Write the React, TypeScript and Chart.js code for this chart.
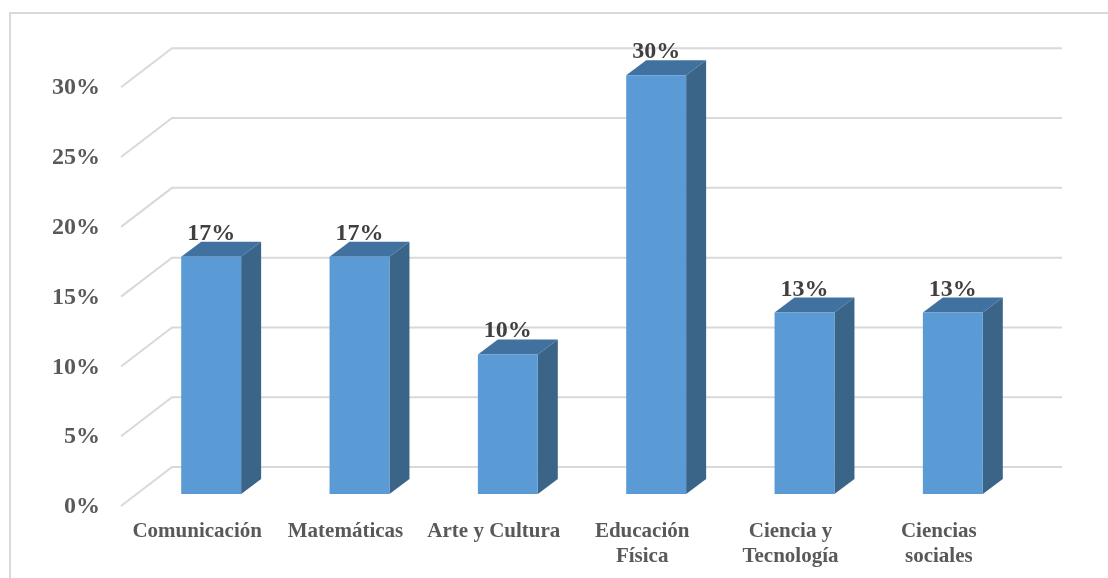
import React, { useEffect, useRef } from "react";
import { Chart, registerables } from "chart.js";

Chart.register(...registerables);

const categories: (string | string[])[] = [
  "Comunicación",
  "Matemáticas",
  "Arte y Cultura",
  ["Educación", "Física"],
  ["Ciencia y", "Tecnología"],
  ["Ciencias", "sociales"],
];
const values = [17, 17, 10, 30, 13, 13];
const gridValues = [0, 5, 10, 15, 20, 25, 30];

const FONT = "'Liberation Serif', 'Times New Roman', serif";
const DEPTH_X = 20;
const DEPTH_Y = 15;
const WALL_BACK_X = 35;
const WALL_BACK_Y = 27;
const WALL_FRONT_X = 16;
const WALL_FRONT_Y = 12;

const poly = (ctx: CanvasRenderingContext2D, pts: number[][], fill: string) => {
  ctx.beginPath();
  pts.forEach(([x, y], i) => (i ? ctx.lineTo(x, y) : ctx.moveTo(x, y)));
  ctx.closePath();
  ctx.fillStyle = fill;
  ctx.fill();
};

const threeD = {
  id: "threeD",
  beforeDatasetsDraw(chart: any) {
    const { ctx, scales, chartArea } = chart;
    ctx.save();
    ctx.strokeStyle = "#d9d9d9";
    ctx.lineWidth = 2;
    gridValues.forEach((v) => {
      const y = scales.y.getPixelForValue(v);
      ctx.beginPath();
      ctx.moveTo(chartArea.left - WALL_FRONT_X, y + WALL_FRONT_Y);
      ctx.lineTo(chartArea.left + WALL_BACK_X, y - WALL_BACK_Y);
      ctx.lineTo(chartArea.right + WALL_BACK_X, y - WALL_BACK_Y);
      ctx.stroke();
    });
    const meta = chart.getDatasetMeta(0);
    meta.data.forEach((bar: any) => {
      const { x, y, base, width } = bar.getProps(["x", "y", "base", "width"], true);
      const l = x - width / 2;
      const r = x + width / 2;
      poly(ctx, [[l, y], [l + DEPTH_X, y - DEPTH_Y], [r + DEPTH_X, y - DEPTH_Y], [r, y]], "#41729f");
      poly(ctx, [[r, y], [r + DEPTH_X, y - DEPTH_Y], [r + DEPTH_X, base - DEPTH_Y], [r, base]], "#3a6488");
    });
    ctx.restore();
  },
  afterDatasetsDraw(chart: any) {
    const { ctx } = chart;
    ctx.save();
    ctx.font = `bold 24px ${FONT}`;
    ctx.fillStyle = "#404040";
    ctx.textAlign = "center";
    ctx.textBaseline = "alphabetic";
    chart.getDatasetMeta(0).data.forEach((bar: any, i: number) => {
      ctx.fillText(`${values[i]}%`, bar.x, bar.y - 17);
    });
    ctx.restore();
  },
};

export default function App() {
  const ref = useRef<HTMLCanvasElement>(null);
  useEffect(() => {
    const chart = new Chart(ref.current!, {
      type: "bar",
      data: {
        labels: categories as any,
        datasets: [
          {
            data: values,
            backgroundColor: "#5b9bd5",
            borderWidth: 0,
            barPercentage: 1,
            categoryPercentage: 0.404,
          },
        ],
      },
      plugins: [threeD],
      options: {
        responsive: false,
        animation: false,
        devicePixelRatio: 1,
        layout: { padding: { top: 47, right: 81, left: 0, bottom: 0 } },
        plugins: { legend: { display: false }, tooltip: { enabled: false }, title: { display: false } },
        scales: {
          x: {
            grid: { display: false, drawTicks: false },
            border: { display: false },
            afterFit: (s: any) => { s.height = 84; },
            ticks: {
              color: "#595959",
              font: { family: FONT, size: 21, weight: "bold", lineHeight: 1.2 },
              padding: 25,
              labelOffset: -14,
              maxRotation: 0,
              autoSkip: false,
            },
          },
          y: {
            min: 0,
            max: 31.71,
            grid: { display: false, drawTicks: false },
            border: { display: false },
            afterFit: (s: any) => { s.width = 137; },
            afterBuildTicks: (s: any) => { s.ticks = gridValues.map((value) => ({ value })); },
            ticks: {
              color: "#595959",
              font: { family: FONT, size: 24, weight: "bold" },
              padding: 37,
              labelOffset: 13,
              callback: (v: any) => `${v}%`,
            },
          },
        },
      },
    } as any);
    return () => chart.destroy();
  }, []);
  return (
    <div style={{ position: "absolute", left: 0, top: 0, width: 1108, height: 578, background: "#fff", overflow: "hidden" }}>
      <div style={{ position: "absolute", left: 9, top: 12, right: 0, bottom: 0, borderLeft: "2px solid #d9d9d9", borderTop: "2px solid #d9d9d9" }} />
      <canvas ref={ref} width={1108} height={578} style={{ position: "absolute", left: 0, top: 0, display: "block" }} />
    </div>
  );
}
